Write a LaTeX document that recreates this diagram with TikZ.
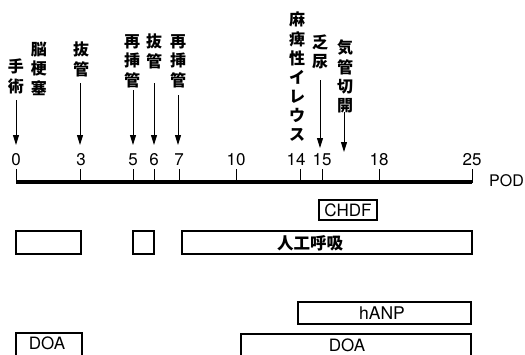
\documentclass[tikz,border=0pt]{standalone}
\usepackage{fontspec}
\setmainfont{TeX Gyre Heros}
\newfontfamily\cjk{Noto Sans CJK JP}
\usetikzlibrary{arrows.meta}
\let\vsend\relax
\newcommand\vs[1]{\vbox{\offinterlineskip\vsloop#1\vsend}}
\def\vsloop#1{\ifx#1\vsend\else\hbox to 18pt{\hss\vrule width0pt height13.5pt depth5.5pt\relax#1\hss}\expandafter\vsloop\fi}
\begin{document}
\begin{tikzpicture}[x=1pt,y=-1pt,
  vlab/.style={font=\cjk\bfseries\fontsize{16}{19}\selectfont, inner sep=0pt, anchor=north},
  num/.style={font=\fontsize{17}{17}\selectfont, inner sep=0pt, anchor=base},
  arr/.style={line width=0.9pt, -{Triangle[length=10pt,width=6pt]}},
  tickln/.style={line width=1pt},
  box/.style={draw, line width=1.1pt, inner sep=0pt},
  boxtxt/.style={font=\fontsize{17}{17}\selectfont, inner sep=0pt},
  jtxt/.style={font=\cjk\bfseries\fontsize{16.5}{16.5}\selectfont, inner sep=0pt}
]
\useasboundingbox (0,0) rectangle (525,354);
\clip (0,0) rectangle (525,354);

% event labels
\node[vlab] (l0)  at (16,59)  {\vs{手術}};
\node[vlab] (lin) at (39,42)  {\vs{脳梗塞}};
\node[vlab] (l3)  at (81,42)  {\vs{抜管}};
\node[vlab] (l5)  at (132,34) {\vs{再挿管}};
\node[vlab] (l6)  at (154,34) {\vs{抜管}};
\node[vlab] (l7)  at (178,34) {\vs{再挿管}};
\node[vlab] (l14) at (297,12) {\vs{麻痺性イレウス}};
\node[vlab] (l15) at (320,35) {\vs{乏尿}};
\node[vlab] (l16) at (345,40) {\vs{気管切開}};

% arrow coordinates
\coordinate (s0) at (16,100);   \coordinate (e0) at (16,145);
\coordinate (s3) at (80,83);    \coordinate (e3) at (80,145);
\coordinate (s5) at (133,90);   \coordinate (e5) at (133,145);
\coordinate (s6) at (154,83);   \coordinate (e6) at (154,145);
\coordinate (s7) at (178,95);   \coordinate (e7) at (178,145);
\coordinate (s15) at (320,80);  \coordinate (e15) at (320,148);
\coordinate (s16) at (344,112); \coordinate (e16) at (344,152);
\foreach \k in {0,3,5,6,7,15,16} \draw[arr] (s\k) -- (e\k);

% axis
\coordinate (a0) at (16,181.5);
\coordinate (a25) at (472,181.5);
\draw[line width=4pt] (a0) -- (a25);
\foreach \x/\n in {16/0,80/3,133/5,154/6,179/7,236/10,300/14,322/15,379/18,472/25} {
  \coordinate (t\n) at (\x,183);
  \draw[tickln] (t\n) -- ++(0,-14);
}
\foreach \x/\n in {16/0,81/3,133/5,154/6,179/7,236/10,296/14,322/15,379/18,472/25} {
  \node[num] (n\n) at (\x,165) {\n};
}
\node[font=\fontsize{16}{16}\selectfont, inner sep=0pt, anchor=base west] (pod) at (489,186) {POD};

% bars
\node[box, minimum width=58pt, minimum height=20pt] (chdf) at (348,210) {};
\node[boxtxt] at (348,210) {CHDF};

\node[box, minimum width=65pt, minimum height=23pt] (v1) at (48.5,242.5) {};
\node[box, minimum width=21pt, minimum height=23pt] (v2) at (143.5,242.5) {};
\node[box, minimum width=290pt, minimum height=23pt] (v3) at (327,242.5) {};
\node[jtxt] at (310,243) {人工呼吸};

\node[box, minimum width=173pt, minimum height=22pt] (hanp) at (384.5,313) {};
\node[boxtxt, font=\fontsize{17.5}{17.5}\selectfont] at (382,313) {hANP};

\node[box, minimum width=66pt, minimum height=40pt] (doa1) at (49,353) {};
\node[boxtxt] at (47,343) {DOA};
\node[box, minimum width=230pt, minimum height=40pt] (doa2) at (356,354) {};
\node[boxtxt] at (347,345) {DOA};
\end{tikzpicture}
\end{document}
